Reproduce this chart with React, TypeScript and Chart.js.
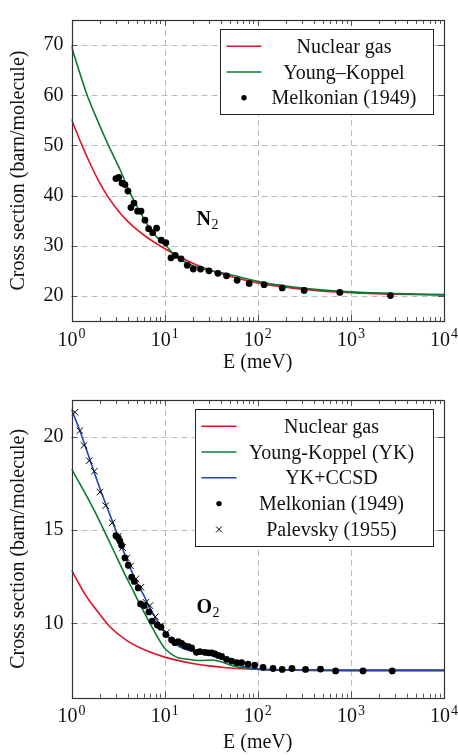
import React, { useEffect, useRef } from "react";
import { Chart, registerables } from "chart.js";

Chart.register(...registerables);

const FONT = "'Liberation Serif', 'Times New Roman', serif";
const RED = "#dc1428";
const GREEN = "#0b7a33";
const BLUE = "#1f45b3";

// ---- axes ----
const xTickValues = [1, 10, 100, 1000, 10000];
const n2YTicks = [20, 30, 40, 50, 60, 70];
const o2YTicks = [10, 15, 20];
const xTitle = "E (meV)";
const yTitle = "Cross section (barn/molecule)";

// ---- N2 panel ----
const n2NuclearE = [1, 1.29, 1.6, 2.0, 2.5, 3.2, 4.0, 5.0, 6.5, 8.9, 12, 20, 30, 46, 105, 360, 1000, 3000, 10000];
const n2NuclearS = [55.2, 50.1, 46.2, 42.6, 39.6, 36.9, 34.9, 33.25, 31.65, 30.0, 28.6, 26.5, 25.2, 24.1, 22.5, 21.2, 20.65, 20.35, 20.2];

const n2YoungE = [1, 1.2, 1.46, 1.9, 2.48, 3.3, 4.24, 5.5, 7.2, 9.0, 10.5, 12.9, 16, 20.3, 30, 46, 105, 360, 1000, 3000, 10000];
const n2YoungS = [69.7, 65.0, 60.2, 55.0, 50.1, 45.3, 40.6, 36.6, 33.0, 31.0, 29.9, 28.0, 26.9, 26.0, 25.1, 24.4, 22.8, 21.4, 20.8, 20.45, 20.25];

const n2MelkE = [3.0, 3.21, 3.48, 3.75, 4.04, 4.35, 4.69, 5.13, 5.57, 6.15, 6.73, 7.43, 8.2, 9.2, 10.3, 11.7, 13.0, 15.0, 17.5, 20.3, 24.3, 29.9, 37.3, 46.2, 60.1, 80.9, 117, 183, 315, 760, 2660];
const n2MelkS = [43.4, 43.6, 42.5, 42.2, 40.9, 37.6, 38.5, 36.9, 36.9, 35.1, 33.4, 32.6, 33.5, 31.1, 30.6, 27.6, 28.1, 27.4, 26.1, 25.35, 25.35, 25.0, 24.5, 24.0, 23.1, 22.5, 22.25, 21.6, 21.1, 20.7, 20.06];

// ---- O2 panel ----
const o2NuclearE = [1, 1.4, 1.7, 2.0, 2.6, 3.9, 5.9, 10, 20, 30, 46, 105, 1000, 10000];
const o2NuclearS = [12.86, 11.55, 10.95, 10.5, 9.8, 9.08, 8.6, 8.18, 7.84, 7.71, 7.61, 7.52, 7.47, 7.47];

const o2YoungE = [1, 1.7, 2.6, 3.9, 4.6, 5.2, 6.95, 7.4, 9.7, 10.5, 13.4, 17, 24, 33, 42, 55, 82, 185, 1000, 10000];
const o2YoungS = [18.3, 16.2, 14.3, 12.45, 11.75, 11.2, 10.0, 9.75, 8.75, 8.55, 8.18, 8.08, 8.0, 8.03, 7.9, 7.7, 7.56, 7.48, 7.47, 7.47];

const o2CcsdE = [1, 1.23, 1.55, 2.0, 2.6, 3.2, 3.9, 4.9, 5.9, 7.0, 8.9, 10.5, 12.5, 15.8, 24, 36, 54, 82, 185, 1000, 10000];
const o2CcsdS = [21.5, 20.35, 18.9, 17.3, 15.8, 14.6, 13.45, 12.3, 11.55, 10.8, 9.9, 9.35, 8.95, 8.65, 8.4, 8.2, 7.85, 7.6, 7.49, 7.47, 7.47];

const o2MelkE = [3.0, 3.18, 3.31, 3.45, 3.75, 4.07, 4.43, 4.72, 5.2, 5.52, 6.04, 6.79, 7.36, 8.34, 9.12, 10.3, 11.9, 12.9, 14.0, 15.2, 16.5, 17.9, 19.5, 22.0, 23.9, 27.0, 29.4, 32.0, 34.6, 37.6, 40.9, 46.2, 52.4, 59.2, 67.1, 78.7, 92.8, 114, 146, 183, 233, 326, 472, 686, 1350, 2780];
const o2MelkS = [14.71, 14.59, 14.42, 14.19, 13.52, 13.12, 12.48, 12.25, 11.9, 11.04, 10.95, 10.61, 10.12, 9.91, 9.79, 9.39, 9.1, 8.96, 9.01, 8.92, 8.79, 8.75, 8.67, 8.44, 8.48, 8.44, 8.41, 8.41, 8.35, 8.27, 8.22, 8.06, 7.97, 7.89, 7.89, 7.8, 7.75, 7.63, 7.57, 7.52, 7.57, 7.52, 7.54, 7.44, 7.44, 7.44];

const o2PalE = [1.09, 1.23, 1.36, 1.55, 1.76, 2.02, 2.33, 2.74, 3.18, 3.54, 3.91, 4.32, 4.92, 5.57, 6.3, 6.95, 7.93, 9.06, 10.5];
const o2PalS = [21.34, 20.35, 19.56, 18.74, 18.17, 17.05, 16.32, 15.4, 14.68, 14.07, 13.5, 13.08, 12.39, 11.94, 11.13, 10.95, 10.35, 9.86, 9.5];

const pairs = (xs: number[], ys: number[]) => xs.map((x, i) => ({ x, y: ys[i] }));

function lineDs(label: string, xs: number[], ys: number[], color: string, order: number) {
  return {
    label,
    data: pairs(xs, ys),
    showLine: true,
    borderColor: color,
    backgroundColor: color,
    borderWidth: 1.6,
    pointRadius: 0,
    pointHoverRadius: 0,
    cubicInterpolationMode: "monotone",
    order,
  };
}
function dotDs(label: string, xs: number[], ys: number[], order: number) {
  return {
    label,
    data: pairs(xs, ys),
    showLine: false,
    pointStyle: "circle",
    pointRadius: 3.4,
    backgroundColor: "#000",
    borderColor: "#000",
    borderWidth: 0,
    order,
  };
}
function crossDs(label: string, xs: number[], ys: number[], order: number) {
  return {
    label,
    data: pairs(xs, ys),
    showLine: false,
    pointStyle: "crossRot",
    pointRadius: 4.6,
    backgroundColor: "#000",
    borderColor: "#000",
    borderWidth: 1,
    order,
  };
}

const decorPlugin = {
  id: "decor",
  beforeDatasetsDraw(chart: any, _a: any, opts: any) {
    const { ctx, chartArea: a } = chart;
    const xs = chart.scales.x;
    const ys = chart.scales.y;
    ctx.save();
    ctx.beginPath();
    ctx.rect(a.left, a.top, a.right - a.left, a.bottom - a.top);
    ctx.clip();
    ctx.strokeStyle = "#bdbdbd";
    ctx.lineWidth = 1;
    ctx.setLineDash([6, 4]);
    xTickValues.forEach((v) => {
      const p = Math.round(xs.getPixelForValue(v)) + 0.5;
      ctx.beginPath();
      ctx.moveTo(p, a.top);
      ctx.lineTo(p, a.bottom);
      ctx.stroke();
    });
    (opts.yTicks as number[]).forEach((v) => {
      const p = Math.round(ys.getPixelForValue(v)) + 0.5;
      ctx.beginPath();
      ctx.moveTo(a.left, p);
      ctx.lineTo(a.right, p);
      ctx.stroke();
    });
    ctx.restore();
  },
  afterDatasetsDraw(chart: any, _a: any, opts: any) {
    const { ctx, chartArea: a } = chart;
    const xs = chart.scales.x;
    const ys = chart.scales.y;
    ctx.save();
    // tick marks
    ctx.strokeStyle = "#555";
    ctx.lineWidth = 1;
    const vline = (p: number, y0: number, y1: number) => {
      ctx.beginPath();
      ctx.moveTo(p, y0);
      ctx.lineTo(p, y1);
      ctx.stroke();
    };
    const hline = (p: number, x0: number, x1: number) => {
      ctx.beginPath();
      ctx.moveTo(x0, p);
      ctx.lineTo(x1, p);
      ctx.stroke();
    };
    for (let d = 1; d < 10000; d *= 10) {
      for (let m = 1; m < 10; m++) {
        const p = Math.round(xs.getPixelForValue(d * m)) + 0.5;
        const len = m === 1 ? 6 : 4;
        vline(p, a.bottom, a.bottom - len);
        vline(p, a.top, a.top + len);
      }
    }
    (opts.yTicks as number[]).forEach((v) => {
      const p = Math.round(ys.getPixelForValue(v)) + 0.5;
      hline(p, a.left, a.left + 6);
      hline(p, a.right, a.right - 6);
    });
    // frame
    ctx.strokeStyle = "#333";
    ctx.lineWidth = 1.2;
    ctx.strokeRect(Math.round(a.left) + 0.5, Math.round(a.top) + 0.5, Math.round(a.right) - Math.round(a.left), Math.round(a.bottom) - Math.round(a.top));

    // x tick labels 10^n
    ctx.fillStyle = "#111";
    ctx.textBaseline = "alphabetic";
    ctx.textAlign = "left";
    xTickValues.forEach((v) => {
      const p = xs.getPixelForValue(v);
      const exp = String(Math.round(Math.log10(v)));
      ctx.font = `20px ${FONT}`;
      const wb = ctx.measureText("10").width;
      ctx.font = `14px ${FONT}`;
      const we = ctx.measureText(exp).width;
      const left = p - (wb + we + 1) / 2;
      const base = a.bottom + 24.5;
      ctx.font = `20px ${FONT}`;
      ctx.fillText("10", left, base);
      ctx.font = `14px ${FONT}`;
      ctx.fillText(exp, left + wb + 1, base - 7.5);
    });

    // molecule label
    const note = opts.note;
    if (note) {
      const nx = xs.getPixelForValue(note.x);
      const ny = ys.getPixelForValue(note.y);
      ctx.font = `bold 20px ${FONT}`;
      ctx.fillStyle = "#000";
      ctx.fillText(note.main, nx, ny);
      const w = ctx.measureText(note.main).width;
      ctx.font = `14px ${FONT}`;
      ctx.fillText(note.sub, nx + w + 0.5, ny + 4);
    }

    // legend
    const ds = chart.data.datasets;
    const rowH = 25.8;
    const right = a.right - 11.5;
    const top = a.top + 9.3;
    const width = opts.legendWidth;
    const left = right - width;
    const height = ds.length * rowH + 8;
    ctx.fillStyle = "#fff";
    ctx.fillRect(left, top, width, height);
    ctx.strokeStyle = "#222";
    ctx.lineWidth = 1;
    ctx.strokeRect(Math.round(left) + 0.5, Math.round(top) + 0.5, Math.round(width), Math.round(height));
    const s0 = left + 7;
    const s1 = s0 + 35;
    const tx = (s1 + right) / 2 - 3;
    ds.forEach((d: any, i: number) => {
      const cy = top + 4 + rowH / 2 + i * rowH;
      if (d.showLine) {
        ctx.strokeStyle = d.borderColor;
        ctx.lineWidth = d.borderWidth;
        ctx.beginPath();
        ctx.moveTo(s0, cy);
        ctx.lineTo(s1, cy);
        ctx.stroke();
      } else if (d.pointStyle === "circle") {
        ctx.fillStyle = "#000";
        ctx.beginPath();
        ctx.arc((s0 + s1) / 2, cy, 2.7, 0, Math.PI * 2);
        ctx.fill();
      } else {
        const c = (s0 + s1) / 2;
        const r = 3;
        ctx.strokeStyle = "#000";
        ctx.lineWidth = 1;
        ctx.beginPath();
        ctx.moveTo(c - r, cy - r);
        ctx.lineTo(c + r, cy + r);
        ctx.moveTo(c - r, cy + r);
        ctx.lineTo(c + r, cy - r);
        ctx.stroke();
      }
      ctx.fillStyle = "#111";
      ctx.font = `20px ${FONT}`;
      ctx.textAlign = "center";
      ctx.fillText(d.label, tx, cy + 6.5);
      ctx.textAlign = "left";
    });
    ctx.restore();
  },
};

type PanelProps = {
  top: number;
  height: number;
  datasets: any[];
  yMin: number;
  yMax: number;
  yTicks: number[];
  padTop: number;
  xAxisHeight: number;
  xTitlePad: number;
  legendWidth: number;
  note: { x: number; y: number; main: string; sub: string };
};

function Panel(props: PanelProps) {
  const ref = useRef<HTMLCanvasElement | null>(null);
  useEffect(() => {
    if (!ref.current) return;
    const chart = new Chart(ref.current, {
      type: "scatter",
      data: { datasets: props.datasets },
      options: {
        animation: false,
        responsive: false,
        devicePixelRatio: 1,
        events: [],
        layout: { padding: { top: props.padTop, right: 14, left: 0, bottom: 0 } },
        plugins: {
          legend: { display: false },
          tooltip: { enabled: false },
          decor: { yTicks: props.yTicks, legendWidth: props.legendWidth, note: props.note },
        } as any,
        scales: {
          x: {
            type: "logarithmic",
            min: 1,
            max: 10000,
            position: "bottom",
            grid: { display: false, drawTicks: false },
            border: { display: false },
            ticks: { display: false },
            afterBuildTicks: (s: any) => {
              s.ticks = xTickValues.map((v) => ({ value: v }));
            },
            afterFit: (s: any) => {
              s.height = props.xAxisHeight;
            },
            title: {
              display: true,
              text: xTitle,
              font: { family: FONT, size: 20 },
              color: "#111",
              padding: { top: 0, bottom: props.xTitlePad },
            },
          },
          y: {
            type: "linear",
            min: props.yMin,
            max: props.yMax,
            position: "left",
            grid: { display: false, drawTicks: false },
            border: { display: false },
            afterBuildTicks: (s: any) => {
              s.ticks = props.yTicks.map((v) => ({ value: v }));
            },
            ticks: {
              font: { family: FONT, size: 20 },
              color: "#111",
              padding: 8,
              autoSkip: false,
              callback: (v: any) => String(v),
            },
            afterFit: (s: any) => {
              s.width = 71.5;
            },
            title: {
              display: true,
              text: yTitle,
              font: { family: FONT, size: 20 },
              color: "#111",
              padding: { top: 7, bottom: 0 },
            },
          },
        } as any,
      },
      plugins: [decorPlugin as any],
    });
    return () => chart.destroy();
  }, []);
  return (
    <canvas
      ref={ref}
      width={458}
      height={props.height}
      style={{ position: "absolute", left: 0, top: props.top, display: "block" }}
    />
  );
}

export default function App() {
  const n2Sets = [
    lineDs("Nuclear gas", n2NuclearE, n2NuclearS, RED, 5),
    lineDs("Young\u2013Koppel", n2YoungE, n2YoungS, GREEN, 4),
    dotDs("Melkonian (1949)", n2MelkE, n2MelkS, 1),
  ];
  const o2Sets = [
    lineDs("Nuclear gas", o2NuclearE, o2NuclearS, RED, 6),
    lineDs("Young-Koppel (YK)", o2YoungE, o2YoungS, GREEN, 5),
    lineDs("YK+CCSD", o2CcsdE, o2CcsdS, BLUE, 4),
    dotDs("Melkonian (1949)", o2MelkE, o2MelkS, 2),
    crossDs("Palevsky (1955)", o2PalE, o2PalS, 1),
  ];
  return (
    <div style={{ position: "absolute", left: 0, top: 0, width: 458, height: 755, background: "#fff" }}>
      <Panel
        top={0}
        height={380}
        datasets={n2Sets}
        yMin={15}
        yMax={75}
        yTicks={n2YTicks}
        padTop={13}
        xAxisHeight={59}
        xTitlePad={5}
        legendWidth={213}
        note={{ x: 22, y: 34.1, main: "N", sub: "2" }}
      />
      <Panel
        top={380}
        height={375}
        datasets={o2Sets}
        yMin={6}
        yMax={22}
        yTicks={o2YTicks}
        padTop={9}
        xAxisHeight={57.3}
        xTitlePad={0}
        legendWidth={238}
        note={{ x: 22, y: 10.55, main: "O", sub: "2" }}
      />
    </div>
  );
}
